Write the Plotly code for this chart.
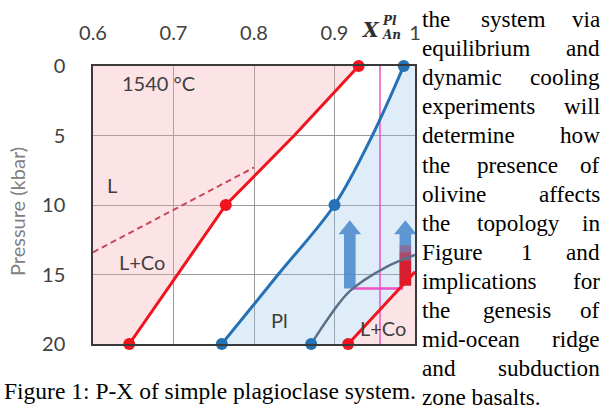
import plotly.graph_objects as go

# ---------------- data ----------------
x_ticks = [0.6, 0.7, 0.8, 0.9, 1.0]
x_tick_text = ["0.6", "0.7", "0.8", "0.9", "1"]
p_ticks = [0, 5, 10, 15, 20]
p_tick_text = ["0", "5", "10", "15", "20"]

# liquidus (red)
liq_X = [0.930, 0.850, 0.765, 0.705, 0.645]
liq_P = [0, 5, 10, 15, 20]
liq_pts_X = [0.930, 0.765, 0.645]
liq_pts_P = [0, 10, 20]

# solidus (blue)
sol_X = [0.986, 0.947, 0.900, 0.830, 0.760]
sol_P = [0, 5, 10, 15, 20]
sol_pts_X = [0.986, 0.900, 0.760]
sol_pts_P = [0, 10, 20]

# dashed L / L+Co boundary
dash_X = [0.600, 0.800]
dash_P = [13.4, 7.3]

# high-pressure L+Co boundary (red, lower right)
co_liq_X = [0.917, 1.0]
co_liq_P = [20, 14.8]

# grey curve
co_sol_X = [0.871, 0.894, 0.919, 0.963, 1.0]
co_sol_P = [20, 18.0, 16.2, 14.5, 13.6]

# magenta lines
iso_X = [0.9565, 0.9565]
iso_P = [0, 20]
tie_X = [0.923, 0.985]
tie_P = [16.0, 16.0]

# arrows
arrow_X = [0.919, 0.988]
arrow_base_P = [16.0, 15.8]
arrow_tip_P = [11.1, 11.1]

# ---------------- layout helpers ----------------
W, H = 603, 410
L, R, T, B = 93, 415, 66, 344


def px(x):
    return (x - L) / (R - L)


def py(y):
    return (B - y) / (B - T)


RED = "#f0141e"
BLUE = "#2471b5"
GREY_C = "#5a6f88"
MAG = "#f050c8"
ARROW = "rgba(75,138,202,0.88)"
SANS = "Lato"
SERIF = "Liberation Serif"

fig = go.Figure()

# pink liquid field
fig.add_trace(go.Scatter(x=[0.6] + liq_X + [0.6], y=[0] + liq_P + [20], fill="toself",
                         fillcolor="rgba(247,170,178,0.32)", line=dict(width=0), mode="lines",
                         hoverinfo="skip", showlegend=False))
# blue plagioclase field
fig.add_trace(go.Scatter(x=[1.0, 1.0] + co_liq_X[::-1] + sol_X[::-1],
                         y=[0, co_liq_P[-1]] + co_liq_P[::-1] + sol_P[::-1], fill="toself",
                         fillcolor="rgba(150,195,235,0.30)", line=dict(width=0), mode="lines",
                         hoverinfo="skip", showlegend=False))
# pink lower-right field
fig.add_trace(go.Scatter(x=co_liq_X + [1.0], y=co_liq_P + [20], fill="toself",
                         fillcolor="rgba(247,170,178,0.32)", line=dict(width=0), mode="lines",
                         hoverinfo="skip", showlegend=False))

# magenta
fig.add_trace(go.Scatter(x=iso_X, y=iso_P, mode="lines", line=dict(color=MAG, width=1.5),
                         showlegend=False, hoverinfo="skip"))

# arrows
sw, hw, hl = 0.0072, 0.0140, 1.0
for ax_, bp, tp in zip(arrow_X, arrow_base_P, arrow_tip_P):
    xs = [ax_ - sw, ax_ - sw, ax_ - hw, ax_, ax_ + hw, ax_ + sw, ax_ + sw, ax_ - sw]
    ys = [bp, tp + hl, tp + hl, tp, tp + hl, tp + hl, bp, bp]
    fig.add_trace(go.Scatter(x=xs, y=ys, fill="toself", fillcolor=ARROW, line=dict(width=0),
                             mode="lines", showlegend=False, hoverinfo="skip"))
# red gradient at bottom of second arrow
ax2 = arrow_X[1]
for (p0, p1, op) in [(arrow_base_P[1], 14.0, 0.95), (14.0, 13.4, 0.6), (13.4, 12.9, 0.3)]:
    fig.add_trace(go.Scatter(x=[ax2 - sw, ax2 + sw, ax2 + sw, ax2 - sw, ax2 - sw], y=[p0, p0, p1, p1, p0],
                             fill="toself", fillcolor=f"rgba(220,25,40,{op})", line=dict(width=0),
                             mode="lines", showlegend=False, hoverinfo="skip"))

fig.add_trace(go.Scatter(x=tie_X, y=tie_P, mode="lines", line=dict(color=MAG, width=2.5),
                         showlegend=False, hoverinfo="skip"))

# dashed
fig.add_trace(go.Scatter(x=dash_X, y=dash_P, mode="lines", line=dict(color="#c84858", width=2, dash="6px,4px"),
                         showlegend=False, hoverinfo="skip"))
# grey curve
fig.add_trace(go.Scatter(x=co_sol_X, y=co_sol_P, mode="lines", line=dict(color=GREY_C, width=2.5, shape="spline"),
                         showlegend=False, hoverinfo="skip"))
# red lower
fig.add_trace(go.Scatter(x=co_liq_X, y=co_liq_P, mode="lines", line=dict(color=RED, width=3),
                         showlegend=False, hoverinfo="skip"))
# liquidus
fig.add_trace(go.Scatter(x=liq_X, y=liq_P, mode="lines", line=dict(color=RED, width=3),
                         showlegend=False, hoverinfo="skip"))
# solidus
fig.add_trace(go.Scatter(x=sol_X, y=sol_P, mode="lines", line=dict(color=BLUE, width=3, shape="spline"),
                         showlegend=False, hoverinfo="skip"))
# markers
fig.add_trace(go.Scatter(x=liq_pts_X + [co_liq_X[0]], y=liq_pts_P + [co_liq_P[0]], mode="markers",
                         marker=dict(color=RED, size=12), showlegend=False, cliponaxis=False, hoverinfo="skip"))
fig.add_trace(go.Scatter(x=sol_pts_X + [co_sol_X[0]], y=sol_pts_P + [co_sol_P[0]], mode="markers",
                         marker=dict(color=BLUE, size=12), showlegend=False, cliponaxis=False, hoverinfo="skip"))

ann = []


def label(text, x, y, size=20, color="#404040", family=SANS, xanchor="center", **kw):
    ann.append(dict(text=text, x=px(x), y=py(y), xref="paper", yref="paper", showarrow=False,
                    font=dict(size=size, color=color, family=family), xanchor=xanchor,
                    yanchor="middle", **kw))


label("1540 °C", 158, 83)
label("L", 112, 185)
label("L+Co", 142, 262)
label("Pl", 279, 320)
label("L+Co", 383, 328)
label("Pressure (kbar)", 17, 212, size=20, color="#808080", textangle=-90)

# X_An^Pl
label("<i><b>X</b></i>", 370, 30, size=20, color="#303030", family="DejaVu Serif")
label("<i><b>Pl</b></i>", 389, 21, size=12, color="#303030", family="DejaVu Serif")
label("<i><b>An</b></i>", 391, 35, size=12, color="#303030", family="DejaVu Serif")

# body text (justified)
TW = {'a': 444, 'b': 500, 'c': 444, 'd': 500, 'e': 444, 'f': 333, 'g': 500, 'h': 500, 'i': 278,
      'j': 278, 'k': 500, 'l': 278, 'm': 778, 'n': 500, 'o': 500, 'p': 500, 'q': 500, 'r': 333,
      's': 389, 't': 278, 'u': 500, 'v': 500, 'w': 722, 'x': 500, 'y': 500, 'z': 444, 'F': 556,
      '1': 500, '-': 333, '.': 250, ' ': 250}
FS = 23.2


def tw(s):
    return sum(TW.get(c, 500) for c in s) / 1000 * FS


lines = ["the system via", "equilibrium and", "dynamic cooling", "experiments will",
         "determine how", "the presence of", "olivine affects", "the topology in",
         "Figure 1 and", "implications for", "the genesis of", "mid-ocean ridge",
         "and subduction", "zone basalts."]
x0, x1 = 420, 602
for i, ln in enumerate(lines):
    y = 19 + 29.1 * i
    words = ln.split()
    if i == len(lines) - 1:
        label(ln, x0, y, size=FS, color="#000000", family=SERIF, xanchor="left")
        continue
    label(words[0], x0, y, size=FS, color="#000000", family=SERIF, xanchor="left")
    label(words[-1], x1, y, size=FS, color="#000000", family=SERIF, xanchor="right")
    if len(words) == 3:
        gap = (x1 - x0 - sum(tw(w) for w in words)) / 2
        label(words[1], x0 + tw(words[0]) + gap, y, size=FS, color="#000000", family=SERIF, xanchor="left")

label("Figure 1: P-X of simple plagioclase system.", 2, 391, size=23.5, color="#000000", family=SERIF,
      xanchor="left")

fig.update_layout(
    width=W, height=H, autosize=False,
    margin=dict(l=L, r=W - R, t=T, b=H - B, pad=0),
    paper_bgcolor="white", plot_bgcolor="white",
    annotations=ann,
    xaxis=dict(range=[0.6, 1.0], side="top", tickvals=x_ticks, ticktext=x_tick_text,
               showgrid=True, gridcolor="#9a9a9a", gridwidth=1, zeroline=False,
               showline=True, mirror=True, linecolor="#3a3a3a", linewidth=1.5,
               ticks="outside", ticklen=16, tickcolor="rgba(0,0,0,0)",
               tickfont=dict(family=SANS, size=20, color="#404040")),
    yaxis=dict(range=[20, 0], tickvals=p_ticks, ticktext=p_tick_text,
               showgrid=True, gridcolor="#9a9a9a", gridwidth=1, zeroline=False,
               showline=True, mirror=True, linecolor="#3a3a3a", linewidth=1.5,
               ticks="outside", ticklen=22, tickcolor="rgba(0,0,0,0)",
               tickfont=dict(family=SANS, size=20, color="#404040")),
)

fig.write_html("out.html", config={"displayModeBar": False},
               post_script="document.body.style.margin='0';document.body.style.overflow='hidden';")
